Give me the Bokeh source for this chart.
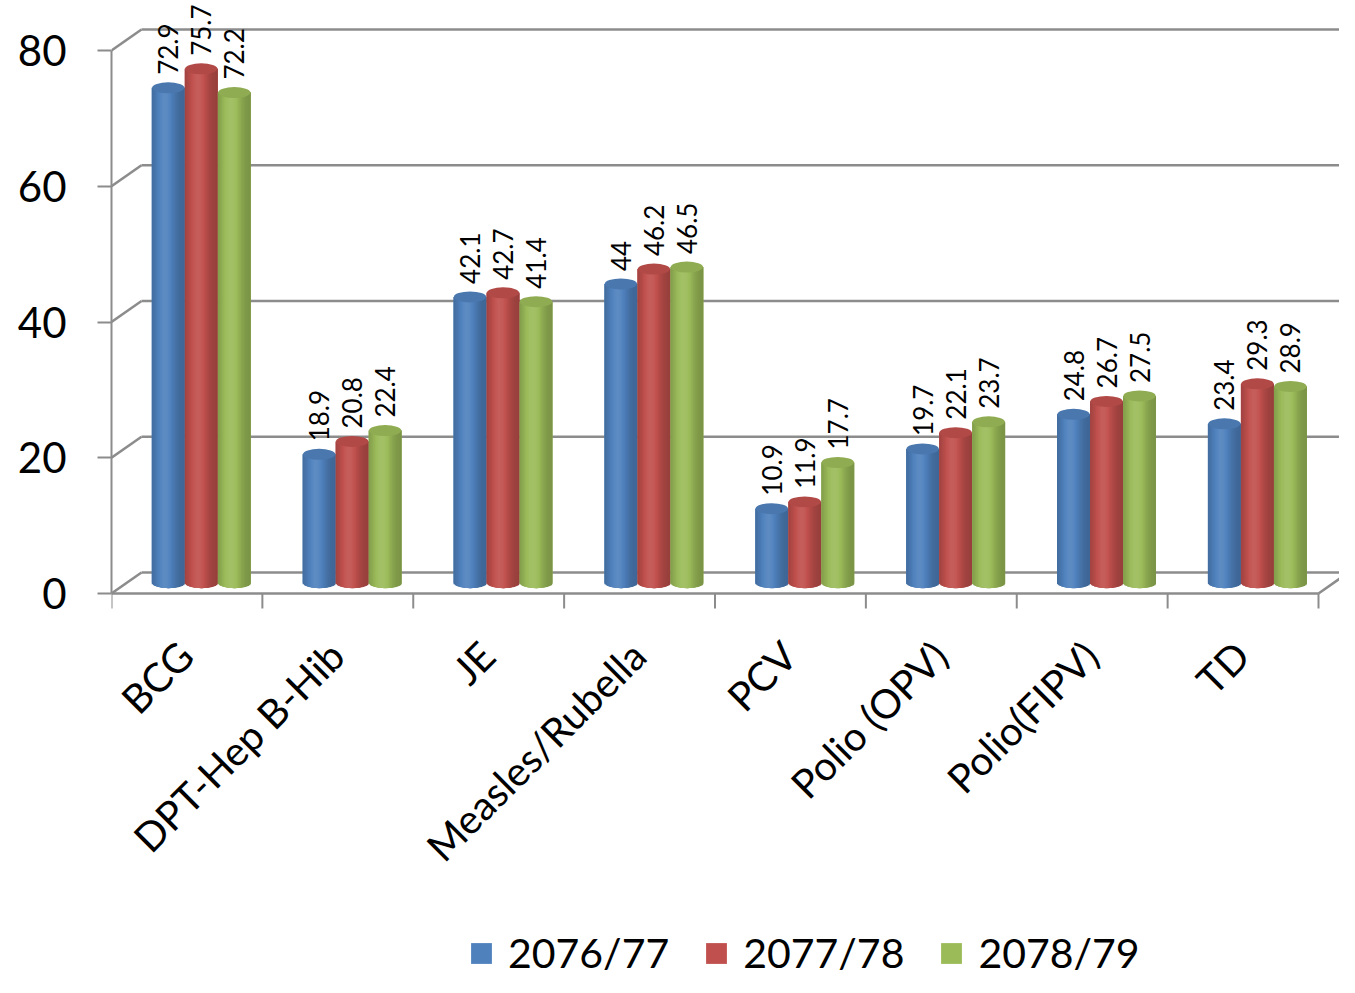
import numpy as np
from bokeh.plotting import figure
from bokeh.models import Range1d, FixedTicker, Legend, LegendItem
from bokeh.core.properties import value
from bokeh.embed import file_html
from bokeh.resources import INLINE

# ---------------- data ----------------
categories = ["BCG", "DPT-Hep B-Hib", "JE", "Measles/Rubella", "PCV",
              "Polio (OPV)", "Polio(FIPV)", "TD"]
series_names = ["2076/77", "2077/78", "2078/79"]
v_2076_77 = [72.9, 18.9, 42.1, 44, 10.9, 19.7, 24.8, 23.4]
v_2077_78 = [75.7, 20.8, 42.7, 46.2, 11.9, 22.1, 26.7, 29.3]
v_2078_79 = [72.2, 22.4, 41.4, 46.5, 17.7, 23.7, 27.5, 28.9]
y_ticks = [0, 20, 40, 60, 80]
series_colors = ["#4F81BD", "#C0504D", "#9BBB59"]
series_values = [v_2076_77, v_2077_78, v_2078_79]

# ---------------- geometry (style) ----------------
W, H = 1339, 977
BORDER_LEFT = 111
PX_X = 150.875          # px per category
PX_Y = 6.7875           # px per value unit
ZERO_Y = 593            # screen y of value 0
DX = 30 / PX_X          # depth offset of back wall (data units)
DY = 21 / PX_Y
BAR_DX = 0.095
BAR_DY = 1.6
BAR_W = 33 / PX_X
ELL_H = 11              # px
NSTRIP = 24
FONT = "Lato"
GRID = "#8c8c8c"

n = len(categories)
frame_w = W - BORDER_LEFT
x_end = frame_w / PX_X
y_end = ZERO_Y / PX_Y
y_start = -(H - ZERO_Y) / PX_Y

p = figure(width=W, height=H, output_backend="svg", toolbar_location=None,
           x_range=Range1d(0, x_end), y_range=Range1d(y_start, y_end),
           x_axis_location=None, min_border_left=BORDER_LEFT, min_border_right=0,
           min_border_top=0, min_border_bottom=0)
p.outline_line_color = None
p.xgrid.visible = False
p.ygrid.visible = False
p.background_fill_color = "white"
p.border_fill_color = "white"

# y axis (front)
ax = p.yaxis[0]
ax.ticker = FixedTicker(ticks=y_ticks)
ax.bounds = (y_ticks[0], y_ticks[-1])
ax.axis_line_color = GRID
ax.axis_line_width = 2
ax.major_tick_line_color = GRID
ax.major_tick_line_width = 2
ax.major_tick_out = 14
ax.major_tick_in = 0
ax.minor_tick_line_color = None
ax.major_label_standoff = 31
ax.major_label_text_font = FONT
ax.major_label_text_font_size = "42px"
ax.major_label_text_color = "black"

# ---------------- 3D frame ----------------
ty = np.array(y_ticks, dtype=float)
p.segment(x0=[DX] * len(ty), y0=ty + DY, x1=[n + DX] * len(ty), y1=ty + DY,
          line_color=GRID, line_width=2.5)
p.segment(x0=[0] * len(ty), y0=ty, x1=[DX] * len(ty), y1=ty + DY,
          line_color=GRID, line_width=2.5)
p.segment(x0=[0, n], y0=[0, 0], x1=[n, n + DX], y1=[0, DY],
          line_color=GRID, line_width=2.5)
kk = np.arange(n + 1, dtype=float)
p.segment(x0=kk, y0=np.zeros_like(kk), x1=kk, y1=np.full_like(kk, -15 / PX_Y),
          line_color=GRID, line_width=2)


def shade(hexcol, f):
    r, g, b = (int(hexcol[i:i + 2], 16) for i in (1, 3, 5))
    if f <= 1:
        c = [int(round(v * f)) for v in (r, g, b)]
    else:
        a = f - 1
        c = [int(round(v + (255 - v) * a)) for v in (r, g, b)]
    return "#%02x%02x%02x" % tuple(min(255, max(0, v)) for v in c)


def fshade(t):
    return 0.78 + 0.30 * np.exp(-((t - 0.40) / 0.32) ** 2)


# ---------------- cylinders ----------------
sl, sr, sb, st, sc = [], [], [], [], []
bx, by, bc = [], [], []
tx, tyv, tc = [], [], []
lx, lyv, lt = [], [], []
legend_renderers = []
for j, (vals, col) in enumerate(zip(series_values, series_colors)):
    cxs_j = [i + 0.5 + BAR_DX + (j - 1) * BAR_W for i in range(n)]
    # base body per series (also used as legend glyph)
    r = p.quad(left=[c - BAR_W / 2 for c in cxs_j], right=[c + BAR_W / 2 for c in cxs_j],
               bottom=[BAR_DY] * n, top=[v + BAR_DY for v in vals],
               fill_color=col, line_color=None)
    legend_renderers.append(r)
    for i, v in enumerate(vals):
        cx = cxs_j[i]
        x0 = cx - BAR_W / 2
        top = v + BAR_DY
        for k in range(NSTRIP):
            t = (k + 0.5) / NSTRIP
            u = 2 * t - 1
            sl.append(x0 + k * BAR_W / NSTRIP)
            sr.append(x0 + (k + 1) * BAR_W / NSTRIP + (0.006 if k < NSTRIP - 1 else 0))
            sb.append(BAR_DY - (ELL_H / 2 / PX_Y) * np.sqrt(max(0.0, 1 - u * u)))
            st.append(top)
            sc.append(shade(col, fshade(t)))
        bx.append(cx); by.append(BAR_DY); bc.append(shade(col, 0.84))
        tx.append(cx); tyv.append(top); tc.append(shade(col, 0.92))
        lx.append(cx); lyv.append(top + 13 / PX_Y); lt.append(f"{v:g}")

p.ellipse(x=bx, y=by, width=BAR_W * 0.98, height=ELL_H, height_units="screen",
          fill_color=bc, line_color=None)
p.quad(left=sl, right=sr, bottom=sb, top=st, fill_color=sc, line_color=None)
p.ellipse(x=tx, y=tyv, width=BAR_W * 0.98, height=ELL_H, height_units="screen",
          fill_color=tc, line_color=None)

# data labels
p.text(x=lx, y=lyv, text=lt, angle=np.pi / 2, text_align="left",
       text_baseline="middle", text_font=value(FONT), text_font_size="26px",
       text_color="black")

# category labels
cxs = [i + 0.5 - 0.12 for i in range(n)]
p.text(x=cxs, y=[-5.6] * n, text=categories, angle=np.pi / 4,
       text_align="right", text_baseline="top", text_font=value(FONT),
       text_font_size="40px", text_color="black")

# legend
items = [LegendItem(label=name, renderers=[r])
         for name, r in zip(series_names, legend_renderers)]
legend = Legend(items=items, orientation="horizontal", location=(357, 0),
                glyph_width=26, glyph_height=26, label_standoff=14, spacing=34,
                padding=0, margin=0, border_line_color=None,
                background_fill_alpha=0, label_text_font=FONT,
                label_text_font_size="41px", label_text_color="black")
p.add_layout(legend, "center")

open("out.html", "w").write(file_html(p, INLINE))
